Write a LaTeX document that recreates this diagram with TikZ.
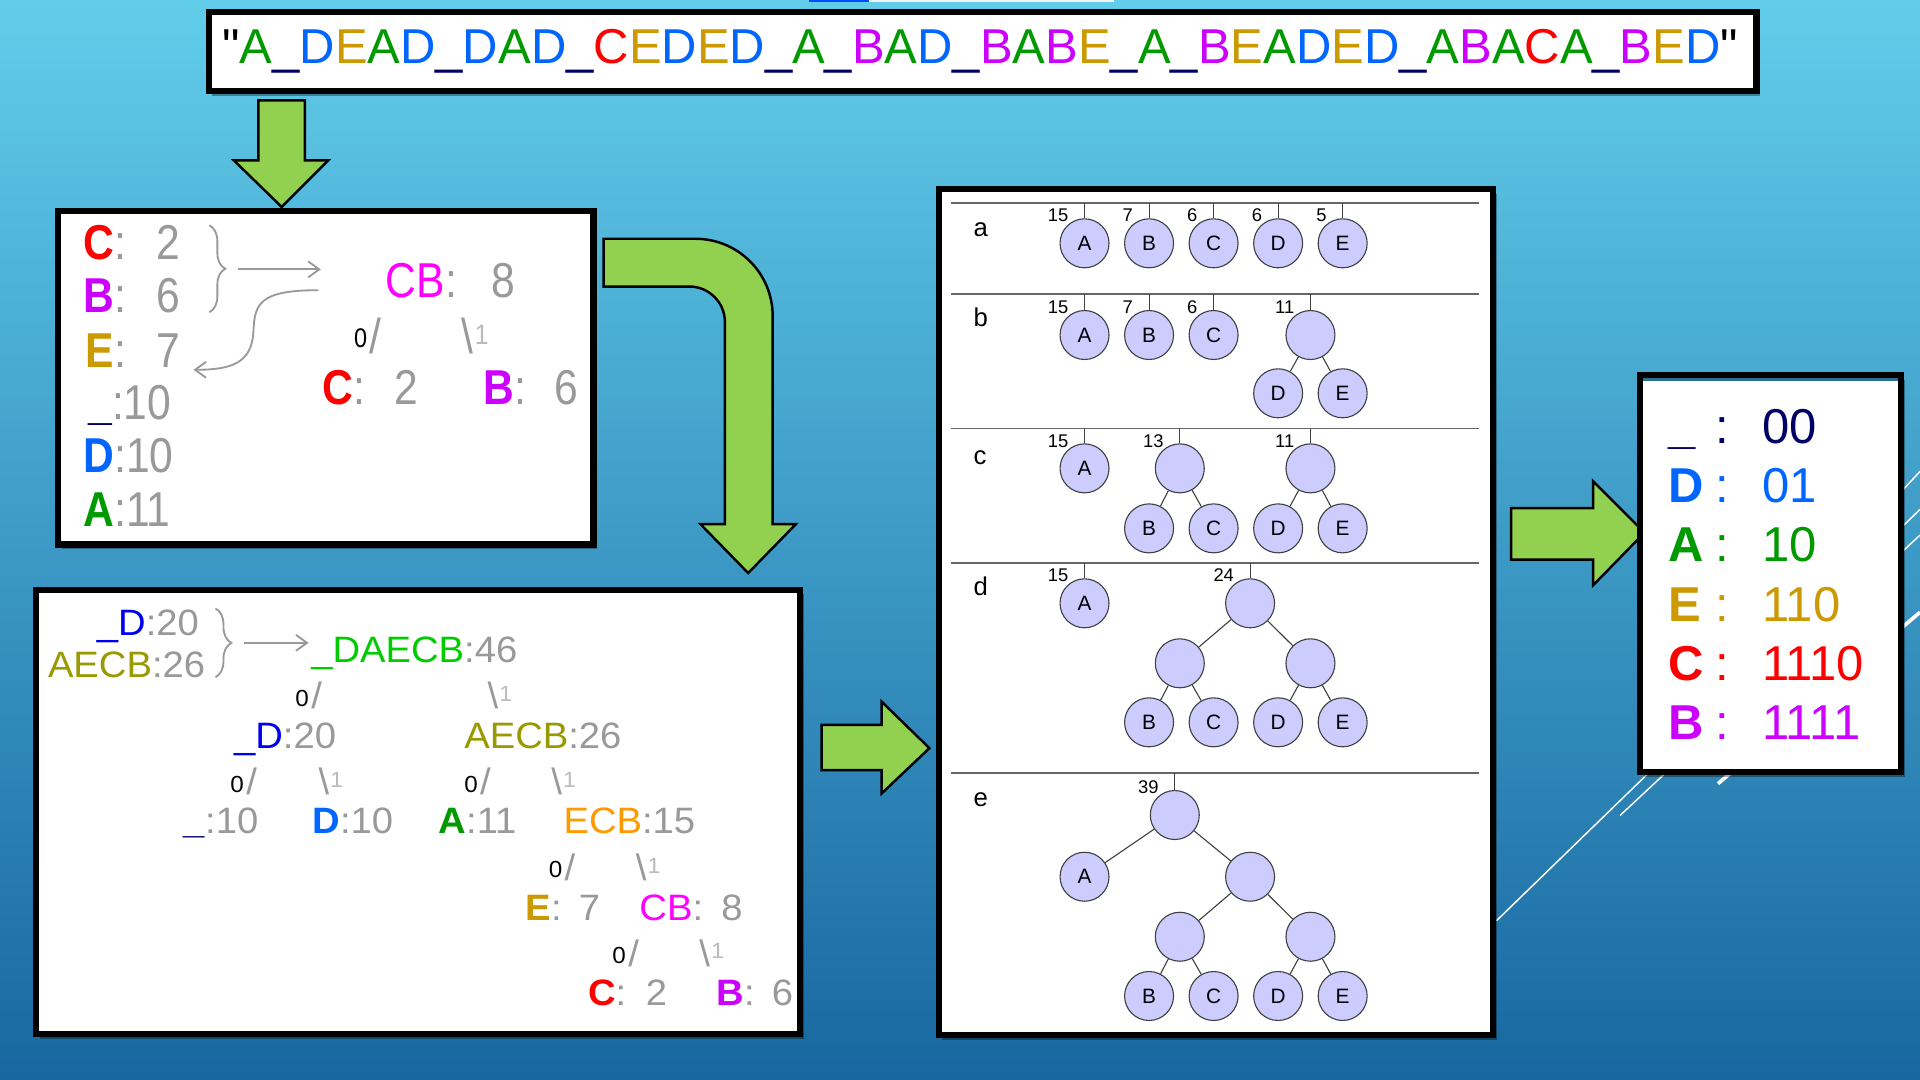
\documentclass[tikz,border=0pt]{standalone}
\usepackage{fontspec}
\setmainfont{Liberation Sans}
\newfontfamily\narrowsans[FakeStretch=0.87]{Liberation Sans}
\newfontfamily\widesans[FakeStretch=1.04]{Liberation Sans}
\usetikzlibrary{positioning,calc,arrows.meta,decorations.pathreplacing,shadows}

\definecolor{bgtop}{HTML}{62CDEB}
\definecolor{bgmid}{HTML}{3E9FCB}
\definecolor{bgbot}{HTML}{1867A0}
\definecolor{arrowgreen}{HTML}{92D050}
\definecolor{cA}{HTML}{009900}
\definecolor{cB}{HTML}{CC00FF}
\definecolor{cC}{HTML}{FF0000}
\definecolor{cD}{HTML}{0066FF}
\definecolor{cE}{HTML}{CC9900}
\definecolor{cU}{HTML}{000066}
\definecolor{cCB}{HTML}{FF00FF}
\definecolor{cAECB}{HTML}{999900}
\definecolor{cDAECB}{HTML}{00CC00}
\definecolor{cECB}{HTML}{FF9900}
\definecolor{cDD}{HTML}{0000EE}
\definecolor{numgray}{HTML}{999999}
\definecolor{onegray}{HTML}{BBBBBB}
\definecolor{hfill}{HTML}{CCCCFF}
\definecolor{hline}{HTML}{404040}

% coloured symbols
\newcommand\lA{\textcolor{cA}{A}}
\newcommand\lB{\textcolor{cB}{B}}
\newcommand\lC{\textcolor{cC}{C}}
\newcommand\lD{\textcolor{cD}{D}}
\newcommand\lE{\textcolor{cE}{E}}
\newcommand\lU{\textcolor{cU}{\_}}
% edge marks "0/" and "\1"
\newcommand\lzero[2]{\raisebox{#2}{\fontsize{#1}{#1}\selectfont\color{black}0}\hspace{2pt}/}
\newcommand\rone[2]{\textbackslash\hspace{1pt}\raisebox{#2}{\fontsize{#1}{#1}\selectfont\color{onegray}1}}
% weight of a subtree: stub up to the rule and number on the left
\newcommand\hweight[3]{%
  \draw[stub] (#1.north) -- (#1.north |- #2);
  \node[wt] (w#1) at ($(#1.north)+(-13,3)$) {#3};}

\tikzset{
  frame/.style={draw=black, fill=white, line width=5pt,
    drop shadow={shadow xshift=3pt, shadow yshift=-4pt, opacity=.35, fill=black}},
  blockarrow/.style={fill=arrowgreen, draw=black, line width=2pt, line join=miter},
  b1/.style={font=\narrowsans\fontsize{40}{44}\selectfont, text=numgray, inner sep=0pt, anchor=base west},
  b2/.style={font=\widesans\fontsize{30}{33}\selectfont, text=numgray, inner sep=0pt, anchor=base west},
  garrow/.style={draw=numgray, line width=1.5pt, -{Straight Barb[length=9pt,width=13pt]}},
  gbrace/.style={draw=numgray, line width=1.5pt, decorate, decoration={brace, amplitude=13pt}},
  hn/.style={circle, draw=hline, fill=hfill, line width=0.9pt, minimum size=40pt, inner sep=0pt,
    font=\fontsize{17}{17}\selectfont},
  wt/.style={font=\fontsize{15}{15}\selectfont, inner sep=0pt, anchor=base east},
  stub/.style={draw=hline, line width=0.9pt},
  tedge/.style={draw=hline, line width=0.9pt},
  sepline/.style={draw=black!60, line width=1.5pt},
  rowlab/.style={font=\fontsize{21}{21}\selectfont, inner sep=0pt, anchor=base west},
  codeline/.style={font=\fontsize{40}{44}\selectfont, inner sep=0pt, anchor=base west},
  deco/.style={draw=white, line width=1.2pt}
}

\begin{document}
\begin{tikzpicture}[x=1pt, y=-1pt]
  \useasboundingbox (0,0) rectangle (1568,882);
  % slide background
  \shade[top color=bgtop, middle color=bgmid, bottom color=bgbot] (0,0) rectangle (1568,882);
  \fill[blue!70!cyan] (661,0) rectangle (710,1.8);
  \fill[white!90!gray] (710,0) rectangle (910,1.8);
  \draw[deco] (1222,752) -- (1568,416);
  \draw[deco] (1323,666) -- (1568,437);
  \draw[deco] (1480,480) -- (1568,385);
  \draw[deco, line width=3pt] (1403,640) -- (1568,500);

  % input string
  \draw[frame] (170.5,9.5) rectangle (1434.5,74.5);
  \node[font=\fontsize{40}{44}\selectfont, inner sep=0pt, anchor=base] (title) at (800.5,52)
    {\textquotedbl\lA\lU \lD\lE\lA\lD\lU \lD\lA\lD\lU \lC\lE\lD\lE\lD\lU \lA\lU \lB\lA\lD\lU
      \lB\lA\lB\lE\lU \lA\lU \lB\lE\lA\lD\lE\lD\lU \lA\lB\lA\lC\lA\lU \lB\lE\lD\textquotedbl};

  % big green arrows
  \draw[blockarrow] (211,82) -- (249,82) -- (249,131) -- (268,131) -- (230,169)
    -- (191,131) -- (211,131) -- cycle;
  \draw[blockarrow] (493,195) -- (568,195) .. controls (602.8,195) and (631,223.2) .. (631,258)
    -- (631,428) -- (650,428) -- (611,468) -- (572,428) -- (592,428) -- (592,263)
    .. controls (592,247) and (579,234) .. (563,234) -- (493,234) -- cycle;
  \draw[blockarrow] (671,592) -- (720,592) -- (720,573) -- (759,611) -- (720,648)
    -- (720,629) -- (671,629) -- cycle;
  \draw[blockarrow] (1234,415) -- (1301,415) -- (1301,393) -- (1343,435) -- (1301,478)
    -- (1301,457) -- (1234,457) -- cycle;

  % first merge: C and B
  \draw[frame] (47.3,172.3) rectangle (484.7,444.7);
  \node[b1] (k1) at (68,212) {\textbf{\lC}:\hspace{25pt}2};
  \node[b1] (k2) at (68,255) {\textbf{\lB}:\hspace{25pt}6};
  \node[b1] (k3) at (70,300) {\textbf{\lE}:\hspace{25pt}7};
  \node[b1] (k4) at (72,343) {\textbf{\lU}:10};
  \node[b1] (k5) at (68,386) {\textbf{\lD}:10};
  \node[b1] (k6) at (68,430) {\textbf{\lA}:11};
  \coordinate (brtop) at (171,184);
  \coordinate (brbot) at (171,255);
  \draw[gbrace] (brtop) -- (brbot);
  \coordinate (brtip) at (194,220);
  \coordinate (cbleft) at (262,220);
  \draw[garrow] (brtip) -- (cbleft);
  \coordinate (cbback) at (260,237);
  \coordinate (ein) at (158,302);
  \draw[garrow] (cbback) .. controls (212,237) and (208,248) .. (207,270)
    .. controls (206,296) and (190,302) .. (ein);
  \node[b1] (cb) at (315,243) {\textcolor{cCB}{CB}:\hspace{28pt}8};
  \node[b1] (cb0) at (289,289) {\lzero{22}{5pt}};
  \node[b1] (cb1) at (377,289) {\rone{23}{8pt}};
  \node[b1] (cbC) at (263,330) {\textbf{\lC}:\hspace{24pt}2};
  \node[b1] (cbB) at (395,330) {\textbf{\lB}:\hspace{23pt}6};

  % final tree
  \draw[frame] (29.5,481.5) rectangle (653.5,844.5);
  \node[b2] (p1) at (79,519) {\textcolor{cDD}{\_D}:20};
  \node[b2] (p2) at (39,553) {\textcolor{cAECB}{AECB}:26};
  \coordinate (brtop2) at (176,497);
  \coordinate (brbot2) at (176,553);
  \draw[gbrace] (brtop2) -- (brbot2);
  \coordinate (brtip2) at (199,525);
  \coordinate (rootleft) at (252,525);
  \draw[garrow] (brtip2) -- (rootleft);
  \node[b2] (r0) at (254,541) {\textcolor{cDAECB}{\_DAECB}:46};
  \node[b2] (r0l) at (241,579) {\lzero{19}{2pt}};
  \node[b2] (r0r) at (398,579) {\rone{18}{6pt}};
  \node[b2] (r1) at (191,611) {\textcolor{cDD}{\_D}:20};
  \node[b2] (r2) at (379,611) {\textcolor{cAECB}{AECB}:26};
  \node[b2] (r1l) at (188,649) {\lzero{19}{2pt}};
  \node[b2] (r1r) at (260,649) {\rone{18}{6pt}};
  \node[b2] (r2l) at (379,649) {\lzero{19}{2pt}};
  \node[b2] (r2r) at (450,649) {\rone{18}{6pt}};
  \node[b2] (r3) at (150,681) {\textbf{\lU}:10};
  \node[b2] (r4) at (255,681) {\textbf{\lD}:10};
  \node[b2] (r5) at (358,681) {\textbf{\lA}:11};
  \node[b2] (r6) at (460,681) {\textcolor{cECB}{ECB}:15};
  \node[b2] (r6l) at (448,719) {\lzero{19}{2pt}};
  \node[b2] (r6r) at (519,719) {\rone{18}{6pt}};
  \node[b2] (r7) at (429,752) {\textbf{\lE}:\hspace{14pt}7};
  \node[b2] (r8) at (522,752) {\textcolor{cCB}{CB}:\hspace{15pt}8};
  \node[b2] (r8l) at (500,789) {\lzero{19}{2pt}};
  \node[b2] (r8r) at (571,789) {\rone{18}{6pt}};
  \node[b2] (r9) at (480,821) {\textbf{\lC}:\hspace{16pt}2};
  \node[b2] (r10) at (585,821) {\textbf{\lB}:\hspace{14pt}6};

  % steps a--e of the forest
  \draw[frame] (766.5,154.5) rectangle (1219.5,845.5);
  \foreach \r/\yy in {a/166,b/240,c/350,d/460,e/631} {
    \coordinate (sep\r) at (777,\yy);
    \coordinate (sepend\r) at (1208,\yy);
    \draw[sepline] (sep\r) -- (sepend\r);
  }
  \node[rowlab] (la) at (795,193) {a};
  \node[rowlab] (lb) at (795,267) {b};
  \node[rowlab] (lc) at (795,379) {c};
  \node[rowlab] (ld) at (795,486) {d};
  \node[rowlab] (le) at (795,659) {e};
  % a
  \foreach \l/\w [count=\i] in {A/15,B/7,C/6,D/6,E/5} {
    \node[hn] (a\l) at (833+52.7*\i,198.7) {\l};
    \hweight{a\l}{sepa}{\w}
  }
  % b
  \foreach \l/\w [count=\i] in {A/15,B/7,C/6} {
    \node[hn] (b\l) at (833+52.7*\i,273.6) {\l};
    \hweight{b\l}{sepb}{\w}
  }
  \node[hn] (bDE) at (1070.2,273.6) {};
  \hweight{bDE}{sepb}{11}
  \node[hn] (bD) at (1043.8,321.2) {D};
  \node[hn] (bE) at (1096.5,321.2) {E};
  \draw[tedge] (bDE) -- (bD) (bDE) -- (bE);
  % c
  \node[hn] (cA) at (885.7,382.5) {A};
  \hweight{cA}{sepc}{15}
  \node[hn] (cBC) at (963.5,382.5) {};
  \hweight{cBC}{sepc}{13}
  \node[hn] (cDE) at (1070.2,382.5) {};
  \hweight{cDE}{sepc}{11}
  \foreach \l/\p [count=\i] in {B/cBC,C/cBC,D/cDE,E/cDE} {
    \node[hn] (c\l) at (885.7+52.7*\i,431.5) {\l};
    \draw[tedge] (\p) -- (c\l);
  }
  % d
  \node[hn] (dA) at (885.7,492.7) {A};
  \hweight{dA}{sepd}{15}
  \node[hn] (dR) at (1020.9,492.7) {};
  \hweight{dR}{sepd}{24}
  \node[hn] (dBC) at (963.5,541.7) {};
  \node[hn] (dDE) at (1070.2,541.7) {};
  \draw[tedge] (dR) -- (dBC) (dR) -- (dDE);
  \foreach \l/\p [count=\i] in {B/dBC,C/dBC,D/dDE,E/dDE} {
    \node[hn] (d\l) at (885.7+52.7*\i,589.9) {\l};
    \draw[tedge] (\p) -- (d\l);
  }
  % e
  \node[hn] (eR) at (959.4,665.6) {};
  \hweight{eR}{sepe}{39}
  \node[hn] (eA) at (885.7,716) {A};
  \node[hn] (eR2) at (1020.9,716) {};
  \draw[tedge] (eR) -- (eA) (eR) -- (eR2);
  \node[hn] (eBC) at (963.5,765) {};
  \node[hn] (eDE) at (1070.2,765) {};
  \draw[tedge] (eR2) -- (eBC) (eR2) -- (eDE);
  \foreach \l/\p [count=\i] in {B/eBC,C/eBC,D/eDE,E/eDE} {
    \node[hn] (e\l) at (885.7+52.7*\i,813.4) {\l};
    \draw[tedge] (\p) -- (e\l);
  }

  % resulting codes
  \draw[frame] (1339.5,306.5) rectangle (1552.5,630.5);
  \fill[bgmid!70!black] (1342,309) rectangle (1550,311);
  \foreach \sym/\col/\bits [count=\i] in {\_/cU/00,D/cD/01,A/cA/10,E/cE/110,C/cC/1110,B/cB/1111} {
    \node[codeline, text=\col] (code\i) at (1362,313.6+48.4*\i)
      {\makebox[39pt][l]{\bfseries\sym}\makebox[38pt][l]{:}\bits};
  }
\end{tikzpicture}
\end{document}
